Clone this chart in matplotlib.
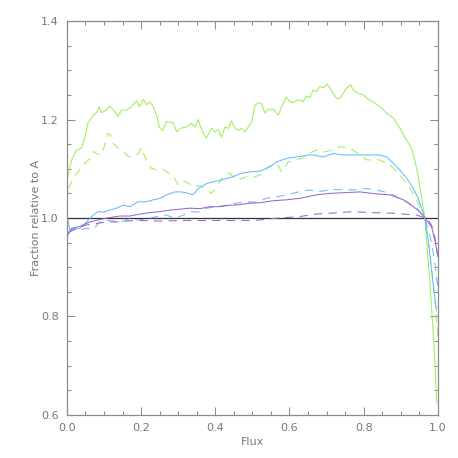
import matplotlib.pyplot as plt
from matplotlib.ticker import MultipleLocator

# green, solid / dashed
gs_x = [0.0, 0.013, 0.026, 0.04, 0.049, 0.057, 0.071, 0.08, 0.087, 0.093, 0.102, 0.116, 0.129, 0.138, 0.147,
        0.161, 0.174, 0.188, 0.196, 0.206, 0.215, 0.224, 0.233, 0.242, 0.249, 0.258, 0.269, 0.287, 0.296, 0.305,
        0.323, 0.336, 0.345, 0.354, 0.363, 0.376, 0.39, 0.399, 0.408, 0.417, 0.426, 0.435, 0.444, 0.453, 0.462,
        0.471, 0.48, 0.489, 0.498, 0.507, 0.516, 0.525, 0.534, 0.543, 0.557, 0.57, 0.579, 0.592, 0.601, 0.61,
        0.619, 0.628, 0.637, 0.646, 0.655, 0.664, 0.673, 0.682, 0.691, 0.702, 0.709, 0.718, 0.727, 0.736, 0.745,
        0.754, 0.765, 0.772, 0.785, 0.799, 0.812, 0.826, 0.844, 0.862, 0.88, 0.898, 0.916, 0.929, 0.938, 0.947,
        0.956, 0.965, 0.978, 0.99, 0.997]
gs_y = [1.077, 1.118, 1.138, 1.142, 1.165, 1.193, 1.209, 1.214, 1.226, 1.214, 1.217, 1.227, 1.216, 1.206, 1.219,
        1.219, 1.226, 1.238, 1.226, 1.241, 1.230, 1.236, 1.226, 1.209, 1.185, 1.177, 1.196, 1.193, 1.175, 1.182,
        1.185, 1.192, 1.185, 1.200, 1.179, 1.162, 1.182, 1.175, 1.179, 1.164, 1.185, 1.182, 1.197, 1.182, 1.179,
        1.182, 1.175, 1.185, 1.195, 1.229, 1.234, 1.233, 1.213, 1.221, 1.221, 1.209, 1.226, 1.246, 1.236, 1.234,
        1.239, 1.240, 1.236, 1.248, 1.244, 1.260, 1.257, 1.267, 1.264, 1.272, 1.264, 1.253, 1.243, 1.243, 1.253,
        1.264, 1.270, 1.260, 1.253, 1.250, 1.241, 1.236, 1.226, 1.213, 1.203, 1.182, 1.158, 1.142, 1.118, 1.084,
        1.043, 1.0, 0.874, 0.739, 0.624]

gd_x = [0.004, 0.017, 0.03, 0.049, 0.062, 0.071, 0.08, 0.093, 0.102, 0.111, 0.118, 0.125, 0.138, 0.152, 0.165,
        0.179, 0.192, 0.201, 0.21, 0.219, 0.228, 0.242, 0.256, 0.269, 0.287, 0.3, 0.318, 0.341, 0.359, 0.377,
        0.39, 0.404, 0.421, 0.439, 0.457, 0.471, 0.485, 0.503, 0.52, 0.543, 0.566, 0.579, 0.597, 0.615, 0.633,
        0.651, 0.673, 0.691, 0.718, 0.736, 0.765, 0.785, 0.808, 0.844, 0.871, 0.893, 0.916, 0.934, 0.95, 0.965,
        0.98, 0.99, 1.0]
gd_y = [1.06, 1.081, 1.094, 1.111, 1.121, 1.135, 1.131, 1.128, 1.148, 1.172, 1.168, 1.152, 1.142, 1.135, 1.125,
        1.125, 1.131, 1.143, 1.125, 1.111, 1.101, 1.098, 1.101, 1.094, 1.084, 1.067, 1.075, 1.064, 1.066, 1.057,
        1.050, 1.064, 1.084, 1.091, 1.077, 1.080, 1.084, 1.083, 1.087, 1.104, 1.111, 1.094, 1.114, 1.118, 1.121,
        1.131, 1.138, 1.134, 1.138, 1.145, 1.141, 1.131, 1.118, 1.118, 1.108, 1.091, 1.070, 1.050, 1.025, 1.0,
        0.92, 0.85, 0.76]

# blue, solid / dashed
bs_x = [0.0, 0.008, 0.022, 0.035, 0.053, 0.071, 0.084, 0.098, 0.116, 0.134, 0.152, 0.17, 0.192, 0.215, 0.233,
        0.251, 0.269, 0.291, 0.309, 0.327, 0.341, 0.354, 0.377, 0.399, 0.421, 0.448, 0.471, 0.498, 0.52, 0.547,
        0.565, 0.592, 0.619, 0.651, 0.664, 0.691, 0.718, 0.745, 0.772, 0.808, 0.844, 0.862, 0.88, 0.898, 0.916,
        0.934, 0.947, 0.965, 0.975, 0.986, 0.996]
bs_y = [1.006, 0.976, 0.978, 0.979, 0.992, 1.006, 1.013, 1.012, 1.016, 1.020, 1.026, 1.023, 1.033, 1.033, 1.037,
        1.040, 1.047, 1.053, 1.053, 1.050, 1.047, 1.060, 1.070, 1.074, 1.078, 1.084, 1.091, 1.094, 1.095, 1.104,
        1.114, 1.121, 1.124, 1.128, 1.128, 1.124, 1.131, 1.128, 1.128, 1.128, 1.128, 1.124, 1.111, 1.097, 1.081,
        1.060, 1.040, 1.0, 0.95, 0.874, 0.813]

bd_x = [0.004, 0.017, 0.035, 0.053, 0.071, 0.089, 0.108, 0.125, 0.147, 0.17, 0.192, 0.215, 0.242, 0.269, 0.291,
        0.314, 0.332, 0.354, 0.377, 0.404, 0.43, 0.457, 0.484, 0.511, 0.538, 0.566, 0.592, 0.624, 0.651, 0.682,
        0.718, 0.772, 0.808, 0.835, 0.871, 0.916, 0.943, 0.965, 0.98, 0.99, 1.0]
bd_y = [0.972, 0.979, 0.976, 0.979, 0.977, 0.992, 0.995, 0.994, 0.992, 0.999, 0.996, 0.998, 1.003, 1.006, 0.999,
        1.006, 1.013, 1.012, 1.020, 1.023, 1.026, 1.030, 1.033, 1.032, 1.040, 1.043, 1.047, 1.053, 1.057, 1.054,
        1.058, 1.057, 1.060, 1.057, 1.050, 1.033, 1.020, 1.0, 0.96, 0.92, 0.86]

# purple, solid / dashed
ps_x = [0.0, 0.013, 0.035, 0.062, 0.089, 0.116, 0.143, 0.17, 0.197, 0.224, 0.251, 0.278, 0.305, 0.332, 0.359,
        0.385, 0.412, 0.439, 0.466, 0.493, 0.52, 0.556, 0.592, 0.628, 0.673, 0.709, 0.763, 0.79, 0.835, 0.871,
        0.907, 0.934, 0.951, 0.965, 0.983, 0.992, 1.0]
ps_y = [0.962, 0.979, 0.983, 0.992, 0.997, 1.001, 1.004, 1.004, 1.008, 1.011, 1.013, 1.016, 1.018, 1.020, 1.019,
        1.023, 1.023, 1.026, 1.027, 1.030, 1.031, 1.035, 1.037, 1.040, 1.047, 1.050, 1.052, 1.053, 1.049, 1.047,
        1.037, 1.023, 1.013, 1.0, 0.982, 0.955, 0.925]

pd_x = [0.004, 0.026, 0.053, 0.08, 0.108, 0.134, 0.161, 0.197, 0.233, 0.269, 0.305, 0.341, 0.377, 0.412, 0.448,
        0.484, 0.52, 0.556, 0.592, 0.628, 0.673, 0.717, 0.772, 0.817, 0.871, 0.907, 0.943, 0.97, 0.983, 0.992, 1.0]
pd_y = [0.970, 0.979, 0.986, 0.989, 0.992, 0.992, 0.994, 0.995, 0.994, 0.994, 0.995, 0.995, 0.995, 0.995, 0.995,
        0.995, 0.996, 0.999, 1.001, 1.003, 1.008, 1.010, 1.013, 1.011, 1.010, 1.008, 1.006, 0.999, 0.986, 0.96, 0.92]

green = "#9cef5c"
blue = "#66bbff"
purple = "#9966cc"
grey = "#8c8c8c"
txt = "#777777"
dash = (0, (8, 6))
lw = 0.75

fig = plt.figure(figsize=(4.58, 4.58), dpi=100)
ax = fig.add_axes([0.146, 0.094, 0.81, 0.86])

ax.axhline(1.0, color="#333333", lw=0.9)
ax.plot(gs_x, gs_y, color=green, lw=lw)
ax.plot(gd_x, gd_y, color=green, lw=lw, linestyle=dash)
ax.plot(bs_x, bs_y, color=blue, lw=lw)
ax.plot(bd_x, bd_y, color=blue, lw=lw, linestyle=dash)
ax.plot(ps_x, ps_y, color=purple, lw=lw)
ax.plot(pd_x, pd_y, color=purple, lw=lw, linestyle=dash)

ax.set_xlim(0, 1)
ax.set_ylim(0.6, 1.4)
ax.xaxis.set_major_locator(MultipleLocator(0.2))
ax.xaxis.set_minor_locator(MultipleLocator(0.05))
ax.yaxis.set_major_locator(MultipleLocator(0.2))
ax.yaxis.set_minor_locator(MultipleLocator(0.05))
ax.xaxis.set_major_formatter(lambda v, p: f"{v:.1f}")
ax.yaxis.set_major_formatter(lambda v, p: f"{v:.1f}")

for s in ax.spines.values():
    s.set_color(grey)
    s.set_linewidth(0.9)
ax.tick_params(which="both", direction="in", top=True, right=True, colors=grey,
               labelcolor=txt, labelsize=8, width=0.75)
ax.tick_params(which="major", length=6, pad=6)
ax.tick_params(which="minor", length=3)

ax.set_xlabel("Flux", color=txt, fontsize=8, labelpad=3)
ax.set_ylabel("Fraction relative to A", color=txt, fontsize=8, labelpad=0)

fig.savefig("out.png", dpi=100)
